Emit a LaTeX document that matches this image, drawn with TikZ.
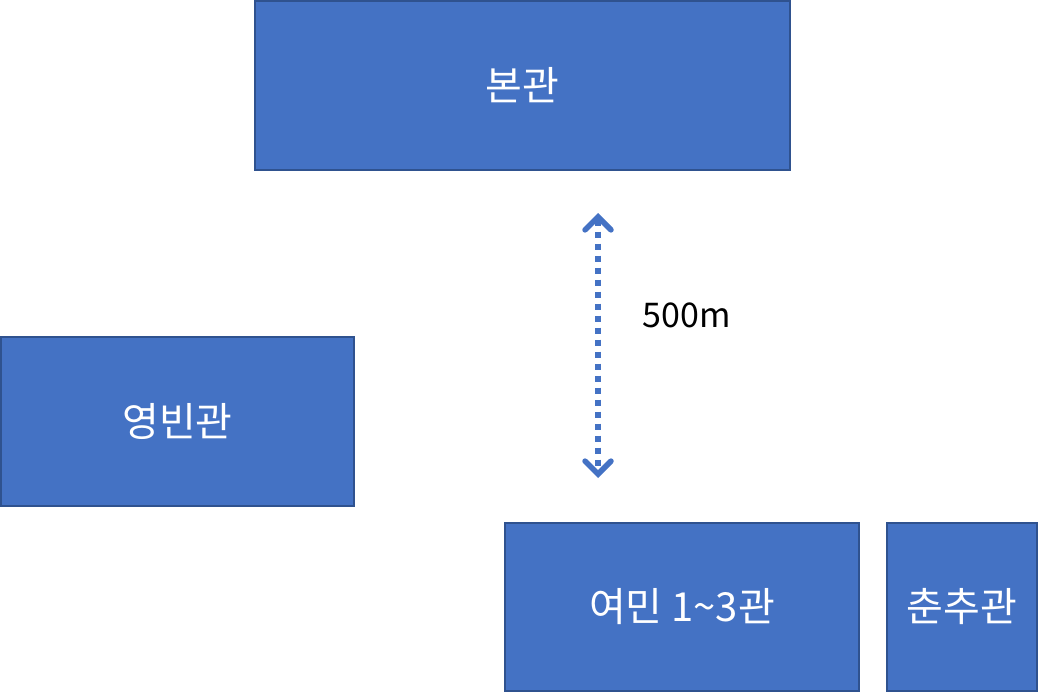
\documentclass[tikz,border=0pt]{standalone}
\usepackage{fontspec}
\setmainfont{Noto Sans CJK KR}
\usetikzlibrary{arrows.meta,positioning}
\definecolor{boxfill}{HTML}{4472C4}
\definecolor{boxline}{HTML}{2F528F}
\tikzset{
	hall/.style={draw=boxline,fill=boxfill,line width=2pt,text=white,font=\fontsize{40}{44}\selectfont,inner sep=0pt},
	gap/.style={draw=boxfill,line width=5.5pt,dash pattern=on 6pt off 6pt,{Straight Barb[length=13pt,width=26pt,line cap=round]}-{Straight Barb[length=13pt,width=26pt,line cap=round]}}
}

\begin{document}
\begin{tikzpicture}[x=1pt,y=-1pt]
	\useasboundingbox (0,0) rectangle (1042,693);
	\node[hall,minimum width=535pt,minimum height=169pt] (bon) at (522.5,85.5) {본관};
	\node[hall,minimum width=353pt,minimum height=169pt] (yeongbin) at (177.5,421.5) {영빈관};
	\node[hall,minimum width=354pt,minimum height=168pt] (yeomin) at (682,607) {여민 1\textasciitilde3관};
	\node[hall,minimum width=150pt,minimum height=168pt] (chunchu) at (962,607) {춘추관};
	
	\coordinate (top) at (598,213);
	\coordinate (bot) at (598,478);
	\draw[gap] (top) -- (bot);
	\node[font=\fontsize{34}{38}\selectfont] (dist) at (687,315) {500m};
	
\end{tikzpicture}
\end{document}
